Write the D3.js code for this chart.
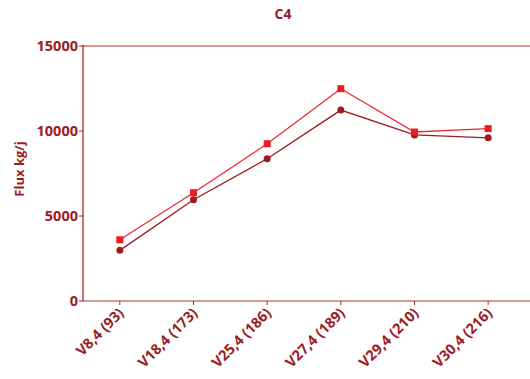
<!DOCTYPE html>
<html><head><meta charset="utf-8">
<script src="https://cdn.jsdelivr.net/npm/d3@7"></script>
<style>body{margin:0;background:#fff}svg{display:block}</style>
</head><body>
<script>
const categories = ["V8,4 (93)","V18,4 (173)","V25,4 (186)","V27,4 (189)","V29,4 (210)","V30,4 (216)"];
const seriesSquare = [3600, 6370, 9250, 12490, 9940, 10140];
const seriesCircle = [2980, 5960, 8370, 11230, 9770, 9600];
const yTicks = [0, 5000, 10000, 15000];
const title = "C4";
const yLabel = "Flux kg/j";

const W = 530, H = 379;
const m = {left: 83, right: 5, top: 46, bottom: 78};
const textColor = "#9b1c22";
const svg = d3.select("body").append("svg").attr("width", W).attr("height", H);
const font = "'Open Sans', 'Liberation Sans', sans-serif";

const x = d3.scalePoint().domain(categories).range([m.left, W - m.right]).padding(0.5);
const y = d3.scaleLinear().domain([0, 15000]).range([H - m.bottom, m.top]);

// top border line
svg.append("line").attr("x1", m.left).attr("x2", W).attr("y1", y(15000)).attr("y2", y(15000))
  .attr("stroke", "#c87474").attr("stroke-width", 1.5);

// x axis
const xg = svg.append("g").attr("transform", `translate(0,${y(0)})`);
xg.append("line").attr("x1", m.left).attr("x2", W).attr("stroke", "#c87474").attr("stroke-width", 1.5);
xg.selectAll("line.t").data(categories).join("line").attr("class","t")
  .attr("x1", d => x(d)).attr("x2", d => x(d)).attr("y1", 0).attr("y2", 4)
  .attr("stroke", "#a8262c").attr("stroke-width", 1);
xg.selectAll("text").data(categories).join("text")
  .attr("transform", d => `translate(${x(d)+5},${13}) rotate(-45)`)
  .attr("text-anchor", "end").attr("font-family", font).attr("font-weight", "bold")
  .attr("font-size", 14.5).attr("fill", textColor).text(d => d);

// y axis
const yg = svg.append("g").attr("transform", `translate(${m.left},0)`);
yg.append("line").attr("y1", y(0)).attr("y2", y(15000)-1).attr("stroke", "#a0141c").attr("stroke-width", 1.2);
yg.selectAll("line.t").data(yTicks).join("line").attr("class","t")
  .attr("x1", -4).attr("x2", 0).attr("y1", d => y(d)).attr("y2", d => y(d))
  .attr("stroke", "#a8262c").attr("stroke-width", 1);
yg.selectAll("text").data(yTicks).join("text")
  .attr("x", -5).attr("y", d => y(d)).attr("dy", "0.36em").attr("text-anchor", "end")
  .attr("font-family", font).attr("font-weight", "bold").attr("font-size", 14.5)
  .attr("fill", textColor).text(d => d);

// title and y label
svg.append("text").attr("x", 283).attr("y", 19).attr("text-anchor", "middle")
  .attr("font-family", font).attr("font-weight", "bold").attr("font-size", 14)
  .attr("fill", textColor).text(title);
svg.append("text").attr("transform", `translate(24,${169}) rotate(-90)`).attr("text-anchor", "middle")
  .attr("font-family", font).attr("font-weight", "bold").attr("font-size", 13)
  .attr("fill", textColor).text(yLabel);

const line = d3.line().x((d,i) => x(categories[i])).y(d => y(d));

// circle series
svg.append("path").datum(seriesCircle).attr("d", line).attr("fill", "none")
  .attr("stroke", "#9b1c22").attr("stroke-width", 1.3);
svg.selectAll("circle.c").data(seriesCircle).join("circle").attr("class","c")
  .attr("cx", (d,i) => x(categories[i])).attr("cy", d => y(d)).attr("r", 3.5).attr("fill", "#9b1c22");

// square series
svg.append("path").datum(seriesSquare).attr("d", line).attr("fill", "none")
  .attr("stroke", "#ee2a2f").attr("stroke-width", 1.3);
svg.selectAll("rect.s").data(seriesSquare).join("rect").attr("class","s")
  .attr("x", (d,i) => x(categories[i]) - 3.5).attr("y", d => y(d) - 3.5)
  .attr("width", 7).attr("height", 7).attr("fill", "#ec1c24");
</script>
</body></html>
